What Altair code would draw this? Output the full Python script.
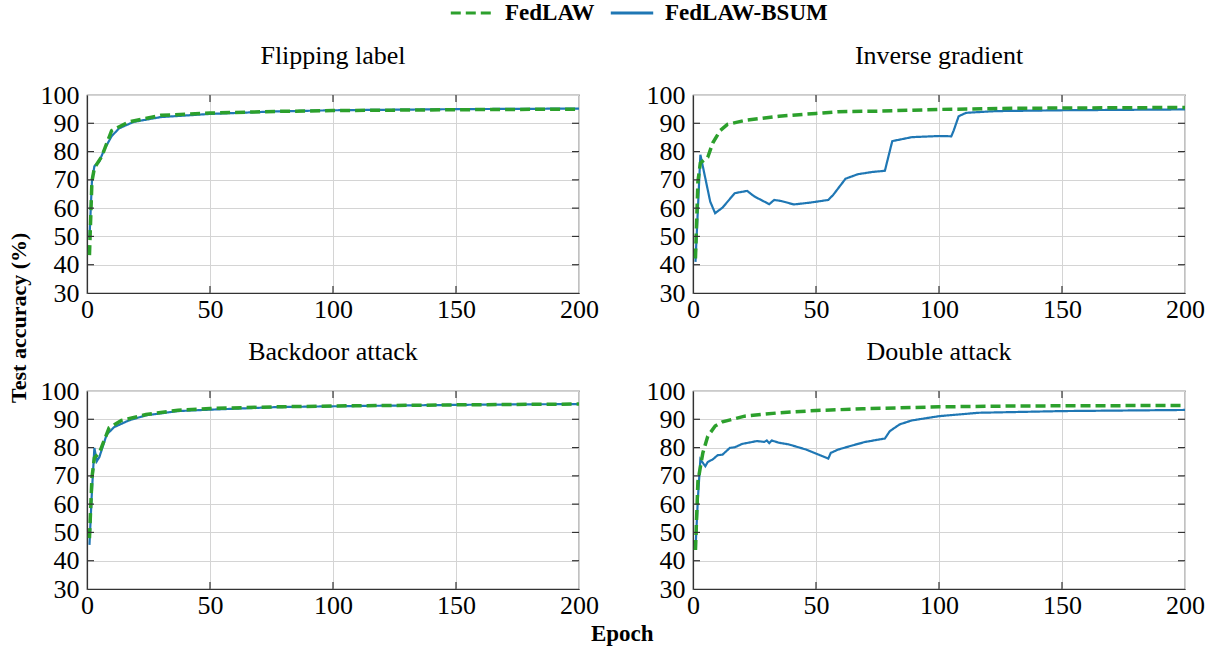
import altair as alt
import pandas as pd

METHODS = ["FedLAW", "FedLAW-BSUM"]
COLORS = ["#2ca02c", "#1f77b4"]
DASHES = [[10, 5], [1, 0]]

# Flipping label
flip_ep_fedlaw = [1, 2, 3, 6, 10, 17, 30, 50, 77, 100, 150, 200]
flip_fedlaw = [43.4, 69.4, 74.2, 78.3, 87.4, 90.5, 92.8, 93.6, 94.2, 94.5, 94.8, 95.0]
flip_ep_bsum = [1, 2, 3, 5, 7, 10, 13, 19, 30, 50, 77, 100, 150, 200]
flip_bsum = [49.3, 69.4, 74.8, 76.5, 80.7, 85.4, 88.2, 90.5, 92.2, 93.3, 94.2, 94.6, 95.0, 95.2]

# Inverse gradient
inv_ep_fedlaw = [1, 2, 3, 6, 8, 11, 14, 21, 35, 50, 59, 76, 100, 130, 200]
inv_fedlaw = [42.2, 69.4, 76.0, 78.0, 83.0, 87.4, 89.6, 91.0, 92.5, 93.5, 94.1, 94.3, 94.9, 95.3, 95.6]
inv_ep_bsum = [1, 3, 7, 9, 12, 17, 22, 25, 31, 33, 36, 41, 48, 55, 57, 62, 67, 73, 78,
               81, 89, 100, 105, 106, 108, 111, 123, 150, 200]
inv_bsum = [41.0, 78.9, 62.3, 58.2, 60.2, 65.3, 66.1, 64.1, 61.4, 62.9, 62.5, 61.3, 62.0, 62.9,
            64.7, 70.4, 72.0, 72.8, 73.2, 83.7, 85.1, 85.5, 85.4, 87.5, 92.5, 93.7, 94.3, 94.6, 94.9]

# Backdoor attack
bd_ep_fedlaw = [1, 2, 3, 5, 9, 14, 24, 37, 50, 77, 100, 150, 200]
bd_fedlaw = [48.0, 69.3, 76.4, 78.1, 87.0, 89.6, 91.7, 93.2, 93.8, 94.4, 94.7, 95.1, 95.4]
bd_ep_bsum = [1, 2, 3, 4, 5, 8, 11, 17, 24, 37, 50, 77, 100, 150, 200]
bd_bsum = [45.6, 64.5, 79.9, 75.2, 76.6, 84.6, 87.2, 89.6, 91.4, 92.9, 93.4, 94.3, 94.6, 95.1, 95.4]

# Double attack
dbl_ep_fedlaw = [1, 2, 4, 6, 9, 12, 21, 35, 50, 69, 100, 130, 200]
dbl_fedlaw = [43.8, 68.1, 78.1, 84.0, 87.6, 89.1, 91.1, 92.3, 93.1, 93.7, 94.4, 94.7, 94.9]
dbl_ep_bsum = [1, 2, 3, 5, 6, 8, 10, 12, 15, 17, 20, 26, 29, 30, 31, 32, 35, 39, 46, 55, 56,
               59, 65, 70, 78, 80, 84, 89, 100, 116, 150, 200]
dbl_bsum = [43.8, 62.2, 75.8, 73.4, 74.9, 75.8, 77.3, 77.5, 79.9, 80.1, 81.3, 82.3, 82.0, 82.5,
            81.6, 82.5, 81.7, 81.1, 79.3, 76.1, 78.1, 79.3, 80.8, 82.0, 83.2, 85.8, 88.2, 89.6,
            91.1, 92.3, 92.9, 93.3]

X_TICKS = [0, 50, 100, 150, 200]
Y_TICKS = [30, 40, 50, 60, 70, 80, 90, 100]

SERIF = "Liberation Serif"
FRAME = "#333333"
PW, PH, TL = 492, 198, 7

LEGEND = alt.Legend(
    orient="none", legendX=362, legendY=-105, direction="horizontal", title=None,
    symbolType="stroke", symbolSize=1800, symbolStrokeWidth=3,
    labelFont=SERIF, labelFontSize=23, labelFontWeight="bold", labelColor="black",
    labelOffset=10, columnPadding=9, padding=0, labelLimit=400,
)


def frame(ep_f, v_f, ep_b, v_b):
    rows = [{"epoch": e, "acc": v, "method": "FedLAW"} for e, v in zip(ep_f, v_f)]
    rows += [{"epoch": e, "acc": v, "method": "FedLAW-BSUM"} for e, v in zip(ep_b, v_b)]
    return pd.DataFrame(rows)


def panel(df, title):
    x = alt.X("epoch:Q", scale=alt.Scale(domain=[0, 200], nice=False),
              axis=alt.Axis(values=X_TICKS, title=None, labelFlush=False))
    y = alt.Y("acc:Q", scale=alt.Scale(domain=[30, 100], nice=False),
              axis=alt.Axis(values=Y_TICKS, title=None))
    color = alt.Color("method:N", scale=alt.Scale(domain=METHODS, range=COLORS), legend=LEGEND)
    dash = alt.StrokeDash("method:N", scale=alt.Scale(domain=METHODS, range=DASHES), legend=LEGEND)
    base = alt.Chart(df)
    blue = base.transform_filter(alt.datum.method == "FedLAW-BSUM").mark_line(
        strokeWidth=2.2, clip=True).encode(x=x, y=y, color=color, strokeDash=dash)
    green = base.transform_filter(alt.datum.method == "FedLAW").mark_line(
        strokeWidth=3.5, clip=True).encode(x=x, y=y, color=color, strokeDash=dash)

    ydf = pd.DataFrame({"acc": Y_TICKS[1:-1]})
    xdf = pd.DataFrame({"epoch": X_TICKS[1:-1]})
    tick = dict(color=FRAME, strokeWidth=1.2)
    lt = alt.Chart(ydf).mark_rule(**tick).encode(y=y, x=alt.value(0), x2=alt.value(TL))
    rt = alt.Chart(ydf).mark_rule(**tick).encode(y=y, x=alt.value(PW - TL), x2=alt.value(PW))
    bt = alt.Chart(xdf).mark_rule(**tick).encode(x=x, y=alt.value(PH - TL), y2=alt.value(PH))
    tt = alt.Chart(xdf).mark_rule(**tick).encode(x=x, y=alt.value(0), y2=alt.value(TL))

    return alt.layer(blue, green, lt, rt, bt, tt).properties(
        width=PW, height=PH,
        title=alt.TitleParams(title, fontSize=26, font=SERIF, fontWeight="normal",
                              color="black", offset=13))


p1 = panel(frame(flip_ep_fedlaw, flip_fedlaw, flip_ep_bsum, flip_bsum), "Flipping label")
p2 = panel(frame(inv_ep_fedlaw, inv_fedlaw, inv_ep_bsum, inv_bsum), "Inverse gradient")
p3 = panel(frame(bd_ep_fedlaw, bd_fedlaw, bd_ep_bsum, bd_bsum), "Backdoor attack")
p4 = panel(frame(dbl_ep_fedlaw, dbl_fedlaw, dbl_ep_bsum, dbl_bsum), "Double attack")

row1 = alt.hconcat(p1, p2, spacing=45)
row2 = alt.hconcat(p3, p4, spacing=45)
grid = alt.vconcat(row1, row2, spacing=15).properties(
    title=alt.TitleParams("Epoch", orient="bottom", anchor="middle", fontSize=23, font=SERIF,
                          fontWeight="bold", color="black", offset=4))
chart = alt.hconcat(grid).properties(
    title=alt.TitleParams("Test accuracy (%)", orient="left", anchor="middle", fontSize=22,
                          font=SERIF, fontWeight="bold", color="black", offset=8),
    padding={"left": 8, "top": -10, "right": 5, "bottom": 2},
).configure_view(
    stroke=FRAME, strokeWidth=1.2
).configure_axis(
    labelFont=SERIF, labelFontSize=26, labelColor="black", gridColor="#d4d4d4", gridWidth=1,
    domainColor=FRAME, domainWidth=1.2, ticks=False, labelPadding=8, labelOverlap=False,
).configure_axisX(labelPadding=3)

chart.save("out.html", embed_options={"renderer": "svg", "actions": False})
